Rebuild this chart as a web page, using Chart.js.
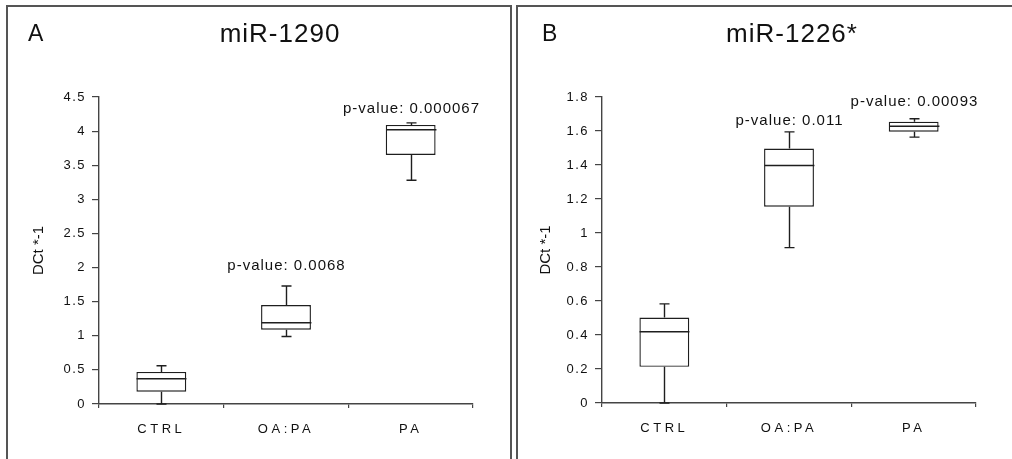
<!DOCTYPE html>
<html>
<head>
<meta charset="utf-8">
<script src="https://cdn.jsdelivr.net/npm/chart.js@4/dist/chart.umd.min.js"></script>
<style>
  body { margin: 0; width: 1012px; height: 459px; overflow: hidden; background: #fff; font-family: "Liberation Sans", Arial, sans-serif; color: #111; }
  .panel { position: absolute; box-sizing: border-box; border: 2px solid #555; height: 470px; }
  #panelA { left: 6px; top: 5px; width: 506px; }
  #panelB { left: 516px; top: 5px; width: 510px; }
  canvas { position: absolute; }
  #chartA { left: 9px; top: 8px; }
  #chartB { left: 519px; top: 8px; }
  .label { position: absolute; line-height: 1; white-space: nowrap; }
  .letter { font-size: 23px; }
  .title { font-size: 26px; letter-spacing: 1px; transform: translateX(-50%); }
</style>
</head>
<body>
<div class="panel" id="panelA"></div>
<div class="panel" id="panelB"></div>
<canvas id="chartA" width="500" height="451"></canvas>
<canvas id="chartB" width="493" height="451"></canvas>
<div class="label letter" style="left:28px; top:22px;">A</div>
<div class="label title" style="left:280px; top:20px;">miR-1290</div>
<div class="label letter" style="left:542px; top:22px;">B</div>
<div class="label title" style="left:792px; top:20px;">miR-1226*</div>

<script>
const categories = ["CTRL", "OA:PA", "PA"];

// miR-1290
const minA = [0, 0.99, 3.28];
const q1A = [0.18, 1.09, 3.65];
const medA = [0.37, 1.19, 4.02];
const q3A = [0.47, 1.45, 4.09];
const maxA = [0.56, 1.73, 4.12];
const pTextA = ["", "p-value: 0.0068", "p-value: 0.000067"];
const pAtA = [null, 2.03, 4.33];
const yTicksA = [0, 0.5, 1, 1.5, 2, 2.5, 3, 3.5, 4, 4.5];

// miR-1226*
const minB = [0, 0.914, 1.564];
const q1B = [0.213, 1.155, 1.596];
const medB = [0.419, 1.397, 1.628];
const q3B = [0.503, 1.497, 1.655];
const maxB = [0.583, 1.595, 1.672];
const pTextB = ["", "p-value: 0.011", "p-value: 0.00093"];
const pAtB = [null, 1.66, 1.77];
const yTicksB = [0, 0.2, 0.4, 0.6, 0.8, 1, 1.2, 1.4, 1.6, 1.8];

const lineColor = "#1e1e1e";
const axisColor = "#444";
const textColor = "#111";


// canvas letterSpacing for tick labels (the figure's text is wide)
function spaceLabels(scale, spacing)
{
    if (scale._spaced) return;
    scale._spaced = true;
    const orig = scale.drawLabels;
    scale.drawLabels = function (area) {
        this.ctx.save();
        this.ctx.letterSpacing = spacing;
        orig.call(this, area);
        this.ctx.restore();
    };
}

// whiskers, caps, medians and p-value labels
const boxPlugin = {
    id: "boxParts",
    afterLayout(chart) {
        spaceLabels(chart.scales.x, "3.5px");
        spaceLabels(chart.scales.y, "1.5px");
    },
    afterDatasetsDraw(chart, args, opts) {
        const {ctx, scales: {x, y}} = chart;
        const bars = chart.getDatasetMeta(0).data;
        ctx.save();
        ctx.strokeStyle = lineColor;
        ctx.lineWidth = 1.4;
        opts.min.forEach((lo, i) => {
            const cx = Math.round(x.getPixelForValue(i)) + 0.5;
            const half = bars[i].width / 2;
            const cap = 5;
            const yMin = y.getPixelForValue(lo);
            const yMax = y.getPixelForValue(opts.max[i]);
            const yQ1 = y.getPixelForValue(opts.q1[i]);
            const yQ3 = y.getPixelForValue(opts.q3[i]);
            const yMed = y.getPixelForValue(opts.med[i]);
            ctx.beginPath();
            ctx.moveTo(cx, yQ3); ctx.lineTo(cx, yMax);
            ctx.moveTo(cx - cap, yMax); ctx.lineTo(cx + cap, yMax);
            ctx.moveTo(cx, yQ1); ctx.lineTo(cx, yMin);
            ctx.moveTo(cx - cap, yMin); ctx.lineTo(cx + cap, yMin);
            ctx.moveTo(cx - half, yMed); ctx.lineTo(cx + half, yMed);
            ctx.stroke();

            if (opts.pText[i]) {
                ctx.fillStyle = textColor;
                ctx.font = "15px 'Liberation Sans', Arial, sans-serif";
                ctx.letterSpacing = "1px";
                ctx.textAlign = "center";
                ctx.textBaseline = "middle";
                ctx.fillText(opts.pText[i], cx, y.getPixelForValue(opts.pAt[i]));
                ctx.letterSpacing = "0px";
            }
        });
        ctx.restore();
    }
};


function makeChart(canvasId, d)
{
    new Chart(document.getElementById(canvasId), {
        type: "bar",
        plugins: [boxPlugin],
        data: {
            labels: categories,
            datasets: [{
                data: d.q1.map((v, i) => [v, d.q3[i]]),
                backgroundColor: "#fff",
                borderColor: lineColor,
                borderWidth: 1.4,
                borderSkipped: false,
                categoryPercentage: 1,
                barPercentage: 0.4
            }]
        },
        options: {
            responsive: false,
            animation: false,
            events: [],
            layout: {
                padding: {top: 89, right: d.padRight, left: 0, bottom: 0}
            },
            plugins: {
                legend: {display: false},
                tooltip: {enabled: false},
                boxParts: d
            },
            scales: {
                x: {
                    grid: {drawOnChartArea: false, offset: true, tickLength: 4, color: axisColor, lineWidth: 1.2},
                    border: {color: axisColor, width: 1.4},
                    ticks: {
                        color: textColor,
                        padding: 14,
                        font: {family: "'Liberation Sans', Arial, sans-serif", size: 13}
                    },
                    afterFit: (scale) => { scale.height = d.xHeight; }
                },
                y: {
                    min: 0,
                    max: d.ticks[d.ticks.length - 1],
                    afterBuildTicks: (scale) => { scale.ticks = d.ticks.map(v => ({value: v})); },
                    grid: {drawOnChartArea: false, tickLength: 7, color: axisColor, lineWidth: 1.2},
                    border: {color: axisColor, width: 1.4},
                    ticks: {
                        color: textColor,
                        padding: 6,
                        font: {family: "'Liberation Sans', Arial, sans-serif", size: 13},
                        callback: (value) => String(value)
                    },
                    title: {
                        display: true,
                        text: "DCt *-1",
                        color: textColor,
                        padding: {top: d.titlePad, bottom: 0},
                        font: {family: "'Liberation Sans', Arial, sans-serif", size: 15}
                    },
                    afterFit: (scale) => { scale.width = d.yWidth; }
                }
            }
        }
    });
}


makeChart("chartA", {
    min: minA, q1: q1A, med: medA, q3: q3A, max: maxA,
    pText: pTextA, pAt: pAtA, ticks: yTicksA,
    padRight: 36, xHeight: 55, yWidth: 90, titlePad: 21
});

makeChart("chartB", {
    min: minB, q1: q1B, med: medB, q3: q3B, max: maxB,
    pText: pTextB, pAt: pAtB, ticks: yTicksB,
    padRight: 36, xHeight: 56, yWidth: 83, titlePad: 18
});
</script>
</body>
</html>
